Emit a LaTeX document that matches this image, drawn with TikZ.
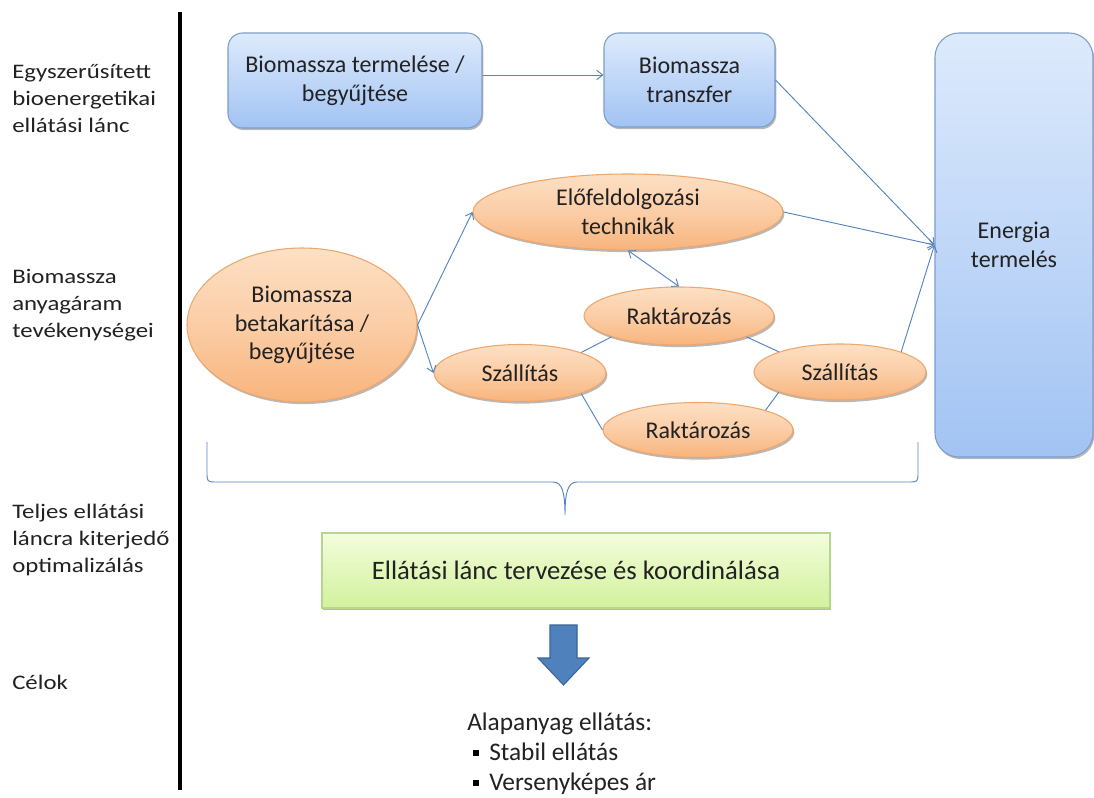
\documentclass[tikz,border=0pt]{standalone}
\usepackage{fontspec}
\setmainfont{Carlito}
\newfontfamily\sidefont[FakeStretch=1.2]{Carlito}
\usetikzlibrary{shapes.geometric,arrows.meta,shadows}

\definecolor{blueTop}{HTML}{DDEAFC}
\definecolor{blueBot}{HTML}{A2C3F3}
\definecolor{blueEdge}{HTML}{7D9DC9}
\definecolor{orTop}{HTML}{FDE0C4}
\definecolor{orMid}{HTML}{FBCDA6}
\definecolor{orBot}{HTML}{F8B47C}
\definecolor{orEdge}{HTML}{EDA76E}
\definecolor{grTop}{HTML}{F4FDDC}
\definecolor{grBot}{HTML}{D2F19C}
\definecolor{grEdge}{HTML}{B6D58E}
\definecolor{linkBlue}{HTML}{5584BE}
\definecolor{arrowFill}{HTML}{4F81BD}
\definecolor{arrowEdge}{HTML}{3A6496}
\definecolor{ink}{HTML}{222222}

\newcommand\nodetxt{\fontsize{18}{21.5}\selectfont}
\newcommand\sidetxt{\sidefont\fontsize{15.5}{20.25}\selectfont}

\begin{document}
\begin{tikzpicture}[x=0.75pt,y=-0.75pt,text=ink,
  softshadow/.style={drop shadow={shadow xshift=1pt,shadow yshift=-1.6pt,opacity=0.28,fill=black}},
  bluebox/.style={draw=blueEdge,line width=0.8pt,rounded corners=11pt,
    top color=blueTop,bottom color=blueBot,softshadow,
    align=center,inner sep=0pt,font=\nodetxt},
  orell/.style={ellipse,draw=orEdge,line width=0.8pt,
    top color=orTop,bottom color=orBot,middle color=orMid,softshadow,
    align=center,inner sep=0pt,font=\nodetxt},
  greenbox/.style={draw=grEdge,line width=0.8pt,
    top color=grTop,bottom color=grBot,softshadow,
    align=center,inner sep=0pt,font=\fontsize{20}{24}\selectfont},
  sidelabel/.style={anchor=north west,align=left,inner sep=0pt,font=\sidetxt},
  link/.style={draw=linkBlue,line width=0.7pt},
  flow/.style={link,-{Straight Barb[length=4.5pt,width=7pt]}},
  twoway/.style={link,{Straight Barb[length=4.5pt,width=7pt]}-{Straight Barb[length=4.5pt,width=7pt]}},
  bullet/.style={fill=black,minimum size=5pt,inner sep=0pt},
  goaltxt/.style={anchor=base west,inner sep=0pt,font=\fontsize{19}{23}\selectfont}
]
\clip (0,0) rectangle (1094,798);
\fill[white] (0,0) rectangle (1094,798);

% row captions on the left
\node[sidelabel] (capA) at (12,64) {Egyszerűsített\\bioenergetikai\\ellátási lánc};
\node[sidelabel] (capB) at (12,269) {Biomassza\\anyagáram\\tevékenységei};
\node[sidelabel] (capC) at (12,504) {Teljes ellátási\\láncra kiterjedő\\optimalizálás};
\node[sidelabel] (capD) at (12,675) {Célok};

% separator
\draw[line width=3pt,black] (180,12) -- (180,790);

% simplified chain
\node[bluebox,minimum width=190.5pt,minimum height=71.25pt] (prod) at (355,80.5)
  {Biomassza termelése /\\begyűjtése};
\node[bluebox,minimum width=128.25pt,minimum height=70.5pt] (transfer) at (689.5,80)
  {Biomassza\\transzfer};
\node[bluebox,rounded corners=18pt,minimum width=118.5pt,minimum height=318pt] (energy) at (1014,245)
  {Energia\\termelés};

% material flow activities
\node[orell,minimum width=172.5pt,minimum height=115.5pt] (harvest) at (302,325)
  {Biomassza\\betakarítása /\\begyűjtése};
\node[orell,minimum width=232.5pt,minimum height=57pt] (prep) at (628,212)
  {Előfeldolgozási\\technikák};
\node[orell,minimum width=142.5pt,minimum height=43.5pt] (storeA) at (679,316) {Raktározás};
\node[orell,minimum width=129pt,minimum height=42.75pt] (shipA) at (520,373) {Szállítás};
\node[orell,minimum width=129pt,minimum height=42pt] (shipB) at (840,372) {Szállítás};
\node[orell,minimum width=142.5pt,minimum height=41.25pt] (storeB) at (698,430) {Raktározás};

% connectors
\coordinate (inlet) at (energy.west);
\draw[flow] (prod.east |- 0,75) -- (transfer.west |- 0,75);
\draw[flow] (transfer.east) -- (inlet);
\draw[flow] (prep.east) -- (inlet);
\draw[flow] (shipB.north east) -- (inlet);
\draw[flow] (harvest.east) -- (prep.west);
\draw[flow] (harvest.east) -- (shipA.west);
\draw[twoway] (prep.south) -- (storeA.north);
\draw[link] (shipA.north east) -- (storeA.south west);
\draw[link] (storeA.south east) -- (shipB.north west);
\draw[link] (shipA.south east) -- (storeB.west);
\draw[link] (storeB.north east) -- (shipB.south west);

% brace spanning the whole chain
\coordinate (braceTip) at (565,515);
\draw[link] (207,442) -- (207,472) .. controls (207,482) .. (217,482)
  -- (553,482) .. controls (562,482) and (565,492) .. (braceTip)
  .. controls (565,492) and (568,482) .. (577,482)
  -- (908,482) .. controls (918,482) .. (918,472) -- (918,442);

% coordination box
\node[greenbox,minimum width=381pt,minimum height=56.25pt] (coord) at (576,570.5)
  {Ellátási lánc tervezése és koordinálása};

% block arrow to the goals
\filldraw[fill=arrowFill,draw=arrowEdge,line width=0.8pt]
  (550,625) -- (577,625) -- (577,658) -- (589,658) -- (563.5,685)
  -- (538,658) -- (550,658) -- cycle;

% goals
\node[goaltxt] (goal) at (467,730) {Alapanyag ellátás:};
\node[bullet] (b1) at (476,753) {};
\node[goaltxt] (g1) at (489,760) {Stabil ellátás};
\node[bullet] (b2) at (476,783) {};
\node[goaltxt] (g2) at (489,790) {Versenyképes ár};
\end{tikzpicture}
\end{document}
